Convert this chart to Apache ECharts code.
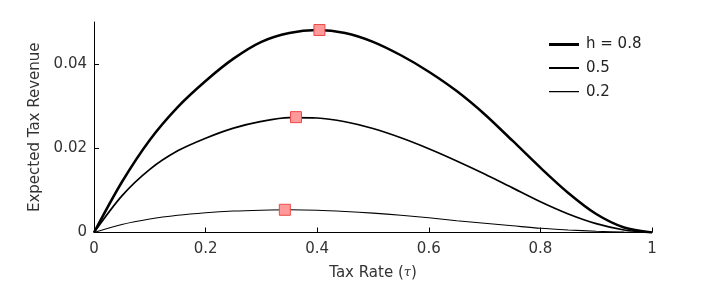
<!DOCTYPE html>
<html>
<head>
<meta charset="utf-8">
<script src="https://cdn.jsdelivr.net/npm/echarts@6/dist/echarts.min.js"></script>
<style>html,body{margin:0;padding:0;background:#fff}#c{width:720px;height:288px}</style>
</head>
<body>
<div id="c"></div>
<script>
var taxRates = [0,0.05,0.1,0.15,0.2,0.25,0.3,0.35,0.4,0.45,0.5,0.55,0.6,0.65,0.7,0.75,0.8,0.85,0.9,0.95,1];
var revH08 = [0,0.0120,0.0220,0.0298,0.0360,0.0413,0.0453,0.0474,0.0481,0.0474,0.0453,0.0421,0.0382,0.0336,0.0281,0.0218,0.0154,0.0094,0.0044,0.0012,0];
var revH05 = [0,0.0087,0.0150,0.0194,0.0224,0.0248,0.0264,0.0273,0.0272,0.0263,0.0247,0.0225,0.0199,0.0170,0.0139,0.0106,0.0073,0.0044,0.0021,0.0006,0];
var revH02 = [0,0.0019,0.0032,0.0041,0.0047,0.0051,0.0053,0.0054,0.0053,0.0050,0.0046,0.0041,0.0035,0.0028,0.0022,0.0016,0.0010,0.0006,0.0003,0.0001,0];
var peakTau = [0.404,0.362,0.342];
var peakRev = [0.0481,0.0274,0.0054];
var seriesNames = ['h = 0.8','0.5','0.2'];
var yTickLabels = [0,0.02,0.04];

function pairs(xs, ys){ return xs.map(function(x,i){ return [x, ys[i]]; }); }
function bandIcon(t){
  var a = (7 - t/2), b = (7 + t/2);
  return 'path://M0,' + a + 'H30V' + b + 'H0Z M0,0H0.01V0.01H0Z M29.99,13.99H30V14H29.99Z';
}

var FONT = 'DejaVu Sans';
var chart = echarts.init(document.getElementById('c'), null, {renderer:'canvas'});
var widths = [2.5,1.7,1.1];
var legendWidths = [3,2,1.3];
var revs = [revH08, revH05, revH02];
var series = seriesNames.map(function(n,i){
  return {
    name: n, type: 'line', data: pairs(taxRates, revs[i]),
    smooth: 0.3, symbol: 'none', silent: true,
    lineStyle: {color:'#000', width: widths[i]}, itemStyle:{color:'#000'},
    z: 2
  };
});
series.push({
  name: 'peaks', type: 'scatter', data: pairs(peakTau, peakRev),
  symbol: 'rect', symbolSize: 11,
  itemStyle: {color:'#ff9a9a', borderColor:'#f04848', borderWidth:1, opacity:1},
  z: 5
});

chart.setOption({
  animation: false,
  backgroundColor: '#fff',
  textStyle: {fontFamily: FONT},
  grid: {left: 94, right: 68, top: 22, bottom: 55.5, containLabel: false},
  legend: {
    data: seriesNames.map(function(n,i){ return {name:n, icon: bandIcon(legendWidths[i]), itemStyle:{color:'#000', borderWidth:0}}; }),
    orient: 'vertical', left: 549, top: 37, padding: 0, itemWidth: 30, itemHeight: 14, itemGap: 8.6,
    textStyle: {fontFamily: FONT, fontSize: 15, color: '#222', padding:[0,0,0,2]},
    selectedMode: false
  },
  xAxis: {
    type: 'value', min: 0, max: 1, interval: 0.2,
    name: 'Tax Rate ({i|τ})', nameLocation: 'middle', nameGap: 33,
    nameTextStyle: {fontFamily: FONT, fontSize: 15, color:'#333',
      rich: {i: {fontFamily: 'DejaVu Serif', fontStyle: 'italic', fontSize: 13, color:'#333'}}},
    axisLine: {show: true, lineStyle: {color:'#000', width: 1}},
    axisTick: {show: true, inside: true, length: 5, lineStyle:{color:'#000'}},
    axisLabel: {fontFamily: FONT, fontSize: 15, color:'#333', margin: 9},
    splitLine: {show: false}
  },
  yAxis: {
    type: 'value', min: 0, max: 0.05,
    name: 'Expected Tax Revenue', nameLocation: 'middle', nameGap: 49,
    nameTextStyle: {fontFamily: FONT, fontSize: 15, color:'#333'},
    axisLine: {show: true, lineStyle: {color:'#000', width: 1}},
    axisTick: {show: true, inside: true, length: 5, lineStyle:{color:'#000'}, customValues: yTickLabels},
    axisLabel: {fontFamily: FONT, fontSize: 15, color:'#333', margin: 7, customValues: yTickLabels},
    splitLine: {show: false}
  },
  series: series
});
</script>
</body>
</html>
